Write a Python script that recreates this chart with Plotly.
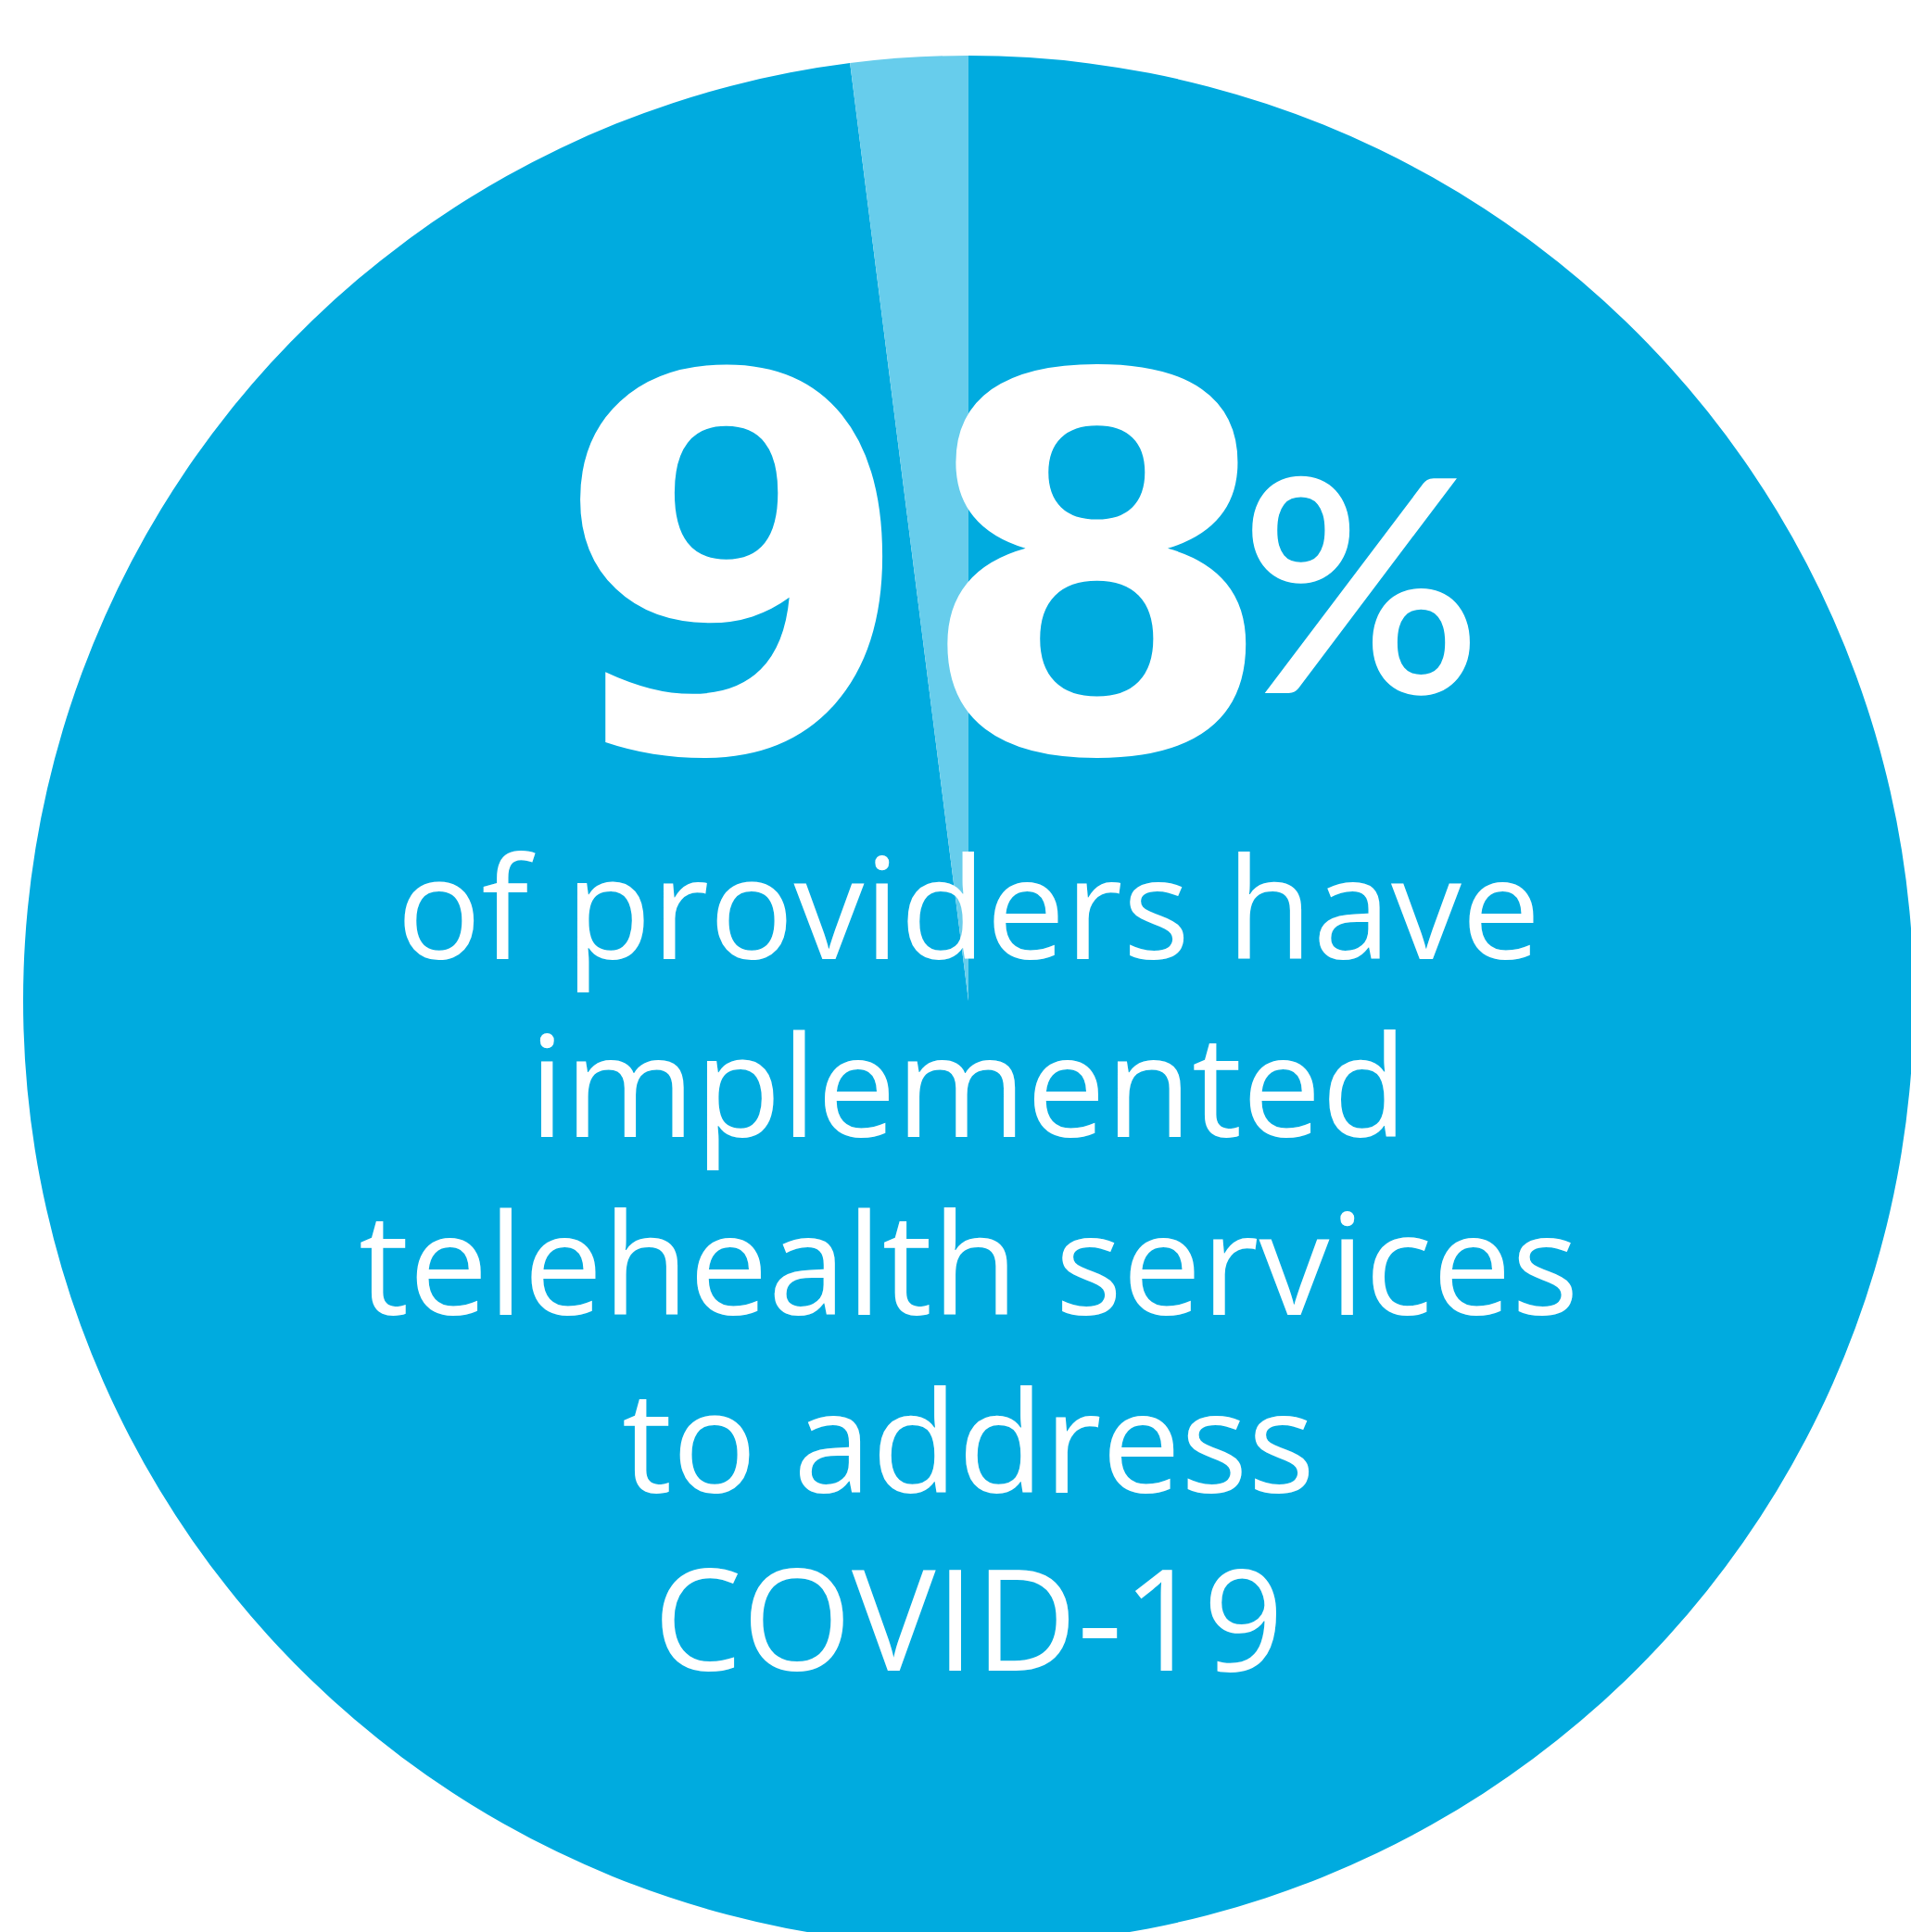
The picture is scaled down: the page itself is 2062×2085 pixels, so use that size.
import plotly.graph_objects as go

# Data
labels = ["Implemented telehealth", "Not implemented"]
values = [98, 2]
colors = ["#00ABDF", "#67CDEC"]

big_number = "98"
percent_sign = "%"
caption_lines = [
    "of providers have",
    "implemented",
    "telehealth services",
    "to address",
    "COVID-19",
]

W, H = 2090, 2110

def px(x):
    return x / W

def py(y):
    return 1 - y / H

cx, cy, r = 1045, 1080, 1020

fig = go.Figure(
    go.Pie(
        labels=labels,
        values=values,
        sort=False,
        direction="clockwise",
        rotation=0,
        marker=dict(colors=colors, line=dict(width=0)),
        textinfo="none",
        hoverinfo="label+percent",
        showlegend=False,
        domain=dict(x=[px(cx - r), px(cx + r)], y=[py(cy + r), py(cy - r)]),
    )
)

annotations = []
annotations.append(dict(
    text=big_number, x=px(988), y=py(615), xref="paper", yref="paper",
    xanchor="center", yanchor="middle", showarrow=False,
    font=dict(family="DejaVu Sans", size=562, color="white", weight=700),
))
annotations.append(dict(
    text=percent_sign, x=px(1468), y=py(624), xref="paper", yref="paper",
    xanchor="center", yanchor="middle", showarrow=False,
    font=dict(family="Lato", size=322, color="white", weight=600),
))
baselines = [1034, 1226, 1418, 1610, 1802]
for line, b in zip(caption_lines, baselines):
    annotations.append(dict(
        text=line, x=px(cx), y=py(b - 58), xref="paper", yref="paper",
        xanchor="center", yanchor="middle", showarrow=False,
        font=dict(family="Open Sans", size=152, color="white"),
    ))

fig.update_layout(
    width=W, height=H,
    margin=dict(l=0, r=0, t=0, b=0),
    paper_bgcolor="white",
    plot_bgcolor="white",
    annotations=annotations,
)

fig.write_html(
    "out.html",
    config={"displayModeBar": False},
    post_script=(
        "document.body.style.margin='0';"
        "document.body.style.overflow='hidden';"
        "document.documentElement.style.overflow='hidden';"
    ),
)
